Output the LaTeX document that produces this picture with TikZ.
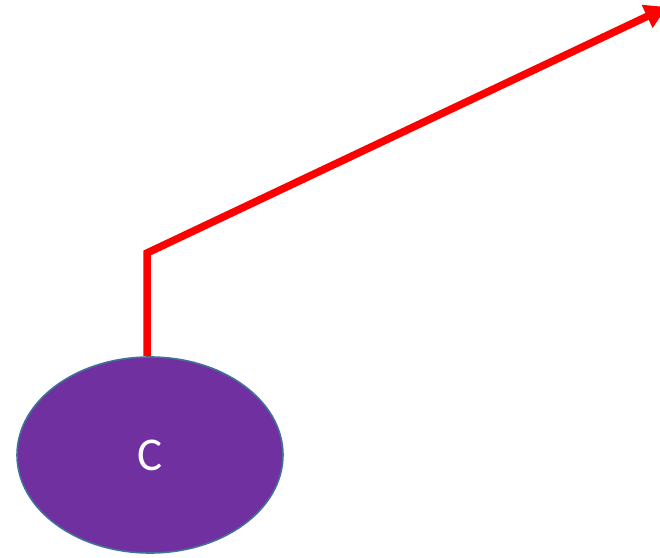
\documentclass[tikz,border=0pt]{standalone}
\usepackage{fontspec}
\setmainfont{Carlito}
\usepackage{xcolor}
\definecolor{grape}{RGB}{112, 48, 160}
\definecolor{rimblue}{RGB}{65, 113, 156}
\definecolor{linkred}{RGB}{255, 0, 0}
\usepackage{tikz}
\usetikzlibrary{shapes.geometric, arrows.meta, positioning}
\tikzset{
  ovalnode/.style={ellipse, draw=rimblue, line width=1.6pt, fill=grape,
    minimum width=266pt, minimum height=196pt, inner sep=0pt,
    text=white, font=\fontsize{47}{56}\selectfont},
  redarrow/.style={-{Triangle[length=22pt, width=24pt]}, line width=7.5pt,
    color=linkred}
}

\begin{document}
\begin{tikzpicture}[x=1pt, y=1pt]
  \useasboundingbox (0,0) rectangle (660,557);

  \node[ovalnode] (c) at (150,102) {C};

  % bend above the oval, then up past the right edge
  \coordinate (bend) at (147,304);
  \coordinate (tip)  at (667,550);

  \draw[redarrow] (bend |- c.north) -- (bend) -- (tip);

\end{tikzpicture}
\end{document}
